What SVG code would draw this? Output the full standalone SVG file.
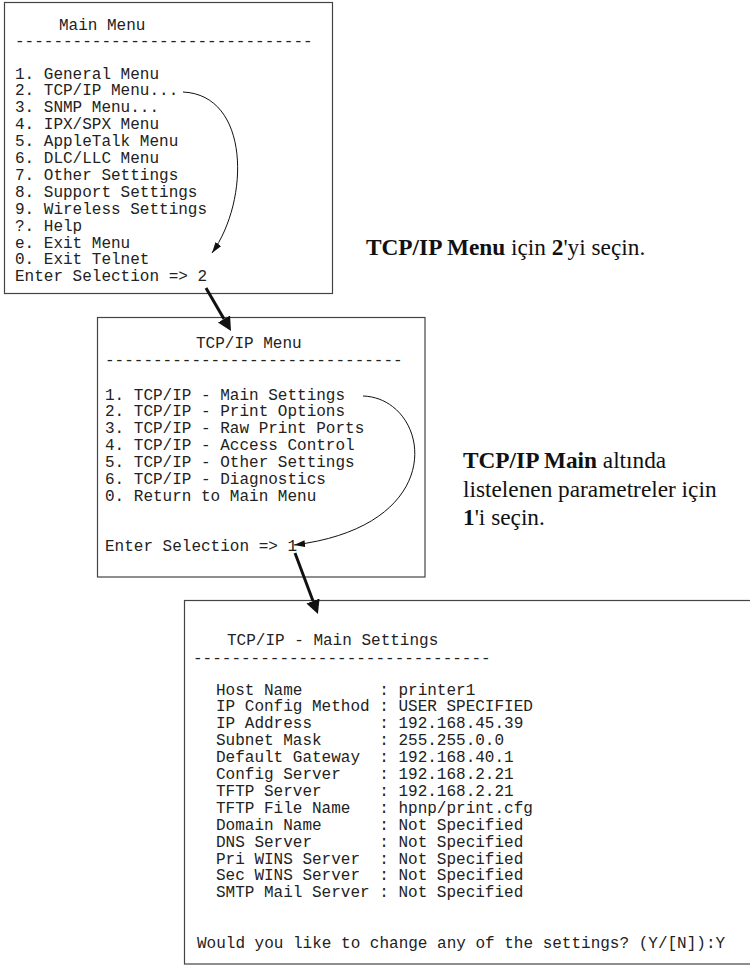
<svg xmlns="http://www.w3.org/2000/svg" width="750" height="968" viewBox="0 0 750 968">
<style>
.box{fill:#fff;stroke:#444;stroke-width:1.2}
.mono{font-family:"Liberation Mono","Courier New",monospace;font-size:16px;fill:#222;white-space:pre}
.serif{font-family:"Liberation Serif","Times New Roman",serif;font-size:23.3px;fill:#111}
.b{font-weight:bold}
.thin{fill:none;stroke:#111;stroke-width:1}
.thick{fill:none;stroke:#111;stroke-width:3}
</style>
<defs>
<marker id="ah" markerUnits="userSpaceOnUse" markerWidth="12" markerHeight="8" refX="11" refY="3.5" orient="auto">
<path d="M0,0 L11,3.5 L0,7 z" fill="#111"/>
</marker>
<marker id="ahb" markerUnits="userSpaceOnUse" markerWidth="16" markerHeight="16" refX="0" refY="7" orient="auto">
<path d="M0,0 L14,7 L0,14 z" fill="#111"/>
</marker>
</defs>
<rect width="750" height="968" fill="#fff"/>
<g id="node-main-menu">
<rect class="box" x="4.5" y="2.5" width="328" height="291"/>
<text class="mono" x="59" y="29.5">Main Menu</text>
<text class="mono" x="15" y="46.3">-------------------------------</text>
<text class="mono" x="15" y="78.5">1. General Menu</text>
<text class="mono" x="15" y="95.4">2. TCP/IP Menu...</text>
<text class="mono" x="15" y="112.3">3. SNMP Menu...</text>
<text class="mono" x="15" y="129.2">4. IPX/SPX Menu</text>
<text class="mono" x="15" y="146.1">5. AppleTalk Menu</text>
<text class="mono" x="15" y="163">6. DLC/LLC Menu</text>
<text class="mono" x="15" y="179.9">7. Other Settings</text>
<text class="mono" x="15" y="196.8">8. Support Settings</text>
<text class="mono" x="15" y="213.7">9. Wireless Settings</text>
<text class="mono" x="15" y="230.6">?. Help</text>
<text class="mono" x="15" y="247.5">e. Exit Menu</text>
<text class="mono" x="15" y="264.4">0. Exit Telnet</text>
<text class="mono" x="15" y="281.3">Enter Selection =&gt; 2</text>
</g>
<g id="node-tcpip-menu">
<rect class="box" x="97.5" y="317.5" width="327.5" height="259.5"/>
<text class="mono" x="196" y="348.3">TCP/IP Menu</text>
<text class="mono" x="105" y="365">-------------------------------</text>
<text class="mono" x="105" y="399.5">1. TCP/IP - Main Settings</text>
<text class="mono" x="105" y="416.4">2. TCP/IP - Print Options</text>
<text class="mono" x="105" y="433.3">3. TCP/IP - Raw Print Ports</text>
<text class="mono" x="105" y="450.2">4. TCP/IP - Access Control</text>
<text class="mono" x="105" y="467.1">5. TCP/IP - Other Settings</text>
<text class="mono" x="105" y="484">6. TCP/IP - Diagnostics</text>
<text class="mono" x="105" y="500.9">0. Return to Main Menu</text>
<text class="mono" x="105" y="551.2">Enter Selection =&gt; 1</text>
</g>
<g id="node-main-settings">
<rect class="box" x="184.5" y="600.5" width="570" height="363.5"/>
<text class="mono" x="227" y="644.5">TCP/IP - Main Settings</text>
<text class="mono" x="193" y="662.6">-------------------------------</text>
<text class="mono" x="216" y="694.5">Host Name        : printer1</text>
<text class="mono" x="216" y="711.4">IP Config Method : USER SPECIFIED</text>
<text class="mono" x="216" y="728.3">IP Address       : 192.168.45.39</text>
<text class="mono" x="216" y="745.2">Subnet Mask      : 255.255.0.0</text>
<text class="mono" x="216" y="762.1">Default Gateway  : 192.168.40.1</text>
<text class="mono" x="216" y="779">Config Server    : 192.168.2.21</text>
<text class="mono" x="216" y="795.9">TFTP Server      : 192.168.2.21</text>
<text class="mono" x="216" y="812.8">TFTP File Name   : hpnp/print.cfg</text>
<text class="mono" x="216" y="829.7">Domain Name      : Not Specified</text>
<text class="mono" x="216" y="846.6">DNS Server       : Not Specified</text>
<text class="mono" x="216" y="863.5">Pri WINS Server  : Not Specified</text>
<text class="mono" x="216" y="880.4">Sec WINS Server  : Not Specified</text>
<text class="mono" x="216" y="897.3">SMTP Mail Server : Not Specified</text>
<text class="mono" x="197" y="947.8">Would you like to change any of the settings? (Y/[N]):Y</text>
</g>
<g id="label-select-2">
<text class="serif" x="366" y="255"><tspan class="b">TCP/IP Menu</tspan> için <tspan class="b">2</tspan>'yi seçin.</text>
</g>
<g id="label-select-1">
<text class="serif" x="463" y="468"><tspan class="b">TCP/IP Main</tspan> altında</text>
<text class="serif" x="463" y="496.5">listelenen parametreler için</text>
<text class="serif" x="463" y="525"><tspan class="b">1</tspan>'i seçin.</text>
</g>
<g id="connectors">
<path class="thin" d="M183,92 C250,95 250,200 212,253" marker-end="url(#ah)"/>
<path class="thin" d="M363,396 C430,398 455,525 294,545" marker-end="url(#ah)"/>
<path class="thick" d="M206,288 L224,319" marker-end="url(#ahb)"/>
<path class="thick" d="M295,553 L313,601" marker-end="url(#ahb)"/>
</g>
</svg>
